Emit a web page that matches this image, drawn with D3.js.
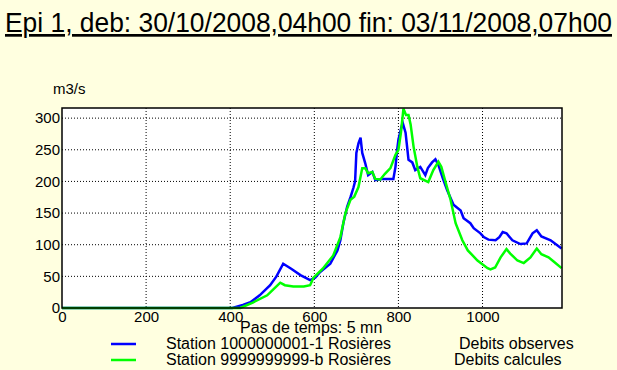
<!DOCTYPE html>
<html>
<head>
<meta charset="utf-8">
<script src="https://cdn.jsdelivr.net/npm/d3@7"></script>
<style>
  body { margin: 0; background: #ffffe0; }
  svg { display: block; font-family: "Liberation Sans", Arial, sans-serif; }
</style>
</head>
<body>
<div id="chart"></div>
<script>
const WIDTH = 617, HEIGHT = 370;
const TITLE = "Epi 1, deb: 30/10/2008,04h00 fin: 03/11/2008,07h00";
const Y_LABEL = "m3/s";
const X_LABEL = "Pas de temps: 5 mn";

// time step index / debit (m3/s)
const obsSteps = [0, 405, 430, 448, 470, 495, 510, 526, 545, 567, 590, 602, 614, 638, 655, 662, 669, 678, 686, 693, 697, 700, 705, 710, 714, 721, 728, 738, 745, 765, 788, 793, 797, 800, 805, 810, 817, 824, 833, 840, 852, 864, 870, 880, 888, 895, 905, 916, 931, 948, 955, 971, 979, 995, 1003, 1014, 1031, 1040, 1048, 1057, 1071, 1090, 1105, 1119, 1129, 1140, 1162, 1188];
const obsValues = [0, 0, 5, 9, 20, 36, 50, 70, 62, 52, 44, 48, 57, 70, 91, 107, 134, 160, 175, 190, 200, 245, 260, 269, 245, 229, 210, 215, 202, 204, 204, 223, 250, 266, 280, 293, 277, 234, 230, 218, 223, 210, 221, 230, 235, 226, 206, 186, 163, 154, 142, 134, 126, 118, 112, 108, 107, 112, 120, 118, 107, 101, 102, 118, 123, 113, 107, 94];

const calcSteps = [0, 424, 455, 488, 505, 519, 530, 550, 575, 590, 598, 620, 645, 662, 674, 686, 695, 705, 714, 721, 728, 738, 745, 757, 768, 781, 793, 800, 806, 812, 818, 824, 829, 836, 845, 852, 871, 883, 895, 902, 912, 924, 936, 952, 965, 988, 1012, 1019, 1030, 1043, 1057, 1066, 1083, 1098, 1114, 1129, 1140, 1157, 1172, 1188];
const calcValues = [0, 0, 9, 20, 31, 40, 36, 34, 34, 36, 48, 62, 83, 112, 150, 171, 176, 191, 221, 221, 213, 215, 204, 203, 212, 221, 242, 250, 277, 315, 305, 305, 290, 255, 223, 205, 199, 218, 231, 223, 199, 171, 134, 107, 91, 75, 63, 61, 64, 80, 93, 86, 75, 71, 80, 94, 85, 80, 72, 63];

const xTicks = [0, 200, 400, 600, 800, 1000];
const yTicks = [0, 50, 100, 150, 200, 250, 300];

const legendNames = ["Station 1000000001-1 Rosières", "Station 9999999999-b Rosières"];
const legendTypes = ["Debits observes", "Debits calcules"];
const colors = ["#0000ff", "#00ff00"];

let margin = {top: 108, right: 55, bottom: 62, left: 62};
let width = WIDTH - margin.left - margin.right;
let height = HEIGHT - margin.top - margin.bottom;

let svg = d3.select("#chart").append("svg")
    .attr("width", WIDTH)
    .attr("height", HEIGHT);

svg.append("rect").attr("width", WIDTH).attr("height", HEIGHT).attr("fill", "#ffffe0");

// title
svg.append("text")
    .attr("x", 5).attr("y", 32)
    .attr("font-size", 27)
    .attr("textLength", 607)
    .attr("lengthAdjust", "spacingAndGlyphs")
    .attr("text-decoration", "underline")
    .attr("fill", "#000")
    .text(TITLE);

let xScale = d3.scaleLinear().domain([0, 1189]).range([0, width]);
let yScale = d3.scaleLinear().domain([0, 316]).range([height, 0]);

let g = svg.append("g").attr("transform", "translate(" + margin.left + "," + margin.top + ")");

g.append("rect").attr("width", width).attr("height", height).attr("fill", "#fff");

// grid
g.selectAll(".vgrid").data(xTicks.slice(1))
  .enter().append("line")
    .attr("x1", d => xScale(d)).attr("x2", d => xScale(d))
    .attr("y1", 0).attr("y2", height)
    .attr("stroke", "#000").attr("stroke-dasharray", "1,2");
g.selectAll(".hgrid").data(yTicks.slice(1))
  .enter().append("line")
    .attr("x1", 0).attr("x2", width)
    .attr("y1", d => yScale(d)).attr("y2", d => yScale(d))
    .attr("stroke", "#000").attr("stroke-dasharray", "1,2");

// series (observed first, calculated on top)
let line = d3.line().x(d => xScale(d[0])).y(d => yScale(d[1]));
let series = [d3.zip(obsSteps, obsValues), d3.zip(calcSteps, calcValues)];
series.forEach(function(s, i) {
  g.append("path")
    .datum(s)
    .attr("d", line)
    .attr("fill", "none")
    .attr("stroke", colors[i])
    .attr("stroke-width", 2.5);
});

g.append("rect").attr("width", width).attr("height", height)
    .attr("fill", "none").attr("stroke", "#000").attr("stroke-width", 1.5);

// axes
let xAxis = d3.axisBottom(xScale).tickValues(xTicks).tickFormat(d3.format("d")).tickSize(0).tickPadding(3);
let yAxis = d3.axisLeft(yScale).tickValues(yTicks).tickFormat(d3.format("d")).tickSize(0).tickPadding(2);
let xg = g.append("g").attr("transform", "translate(0," + height + ")").call(xAxis);
let yg = g.append("g").call(yAxis);
[xg, yg].forEach(function(a) {
  a.select(".domain").remove();
  a.selectAll("text").attr("font-size", 15).attr("font-family", "Liberation Sans, Arial, sans-serif").attr("fill", "#000");
});

svg.append("text").attr("x", 53).attr("y", 94).attr("font-size", 15).text(Y_LABEL);
svg.append("text").attr("x", 240).attr("y", 333).attr("font-size", 16).text(X_LABEL);

// legend
let legendY = [344, 360];
let typeX = [459, 454];
legendNames.forEach(function(name, i) {
  svg.append("line")
    .attr("x1", 111).attr("x2", 136)
    .attr("y1", legendY[i]).attr("y2", legendY[i])
    .attr("stroke", colors[i]).attr("stroke-width", 2.5);
  svg.append("text").attr("x", 166).attr("y", legendY[i] + 5).attr("font-size", 16).text(name);
  svg.append("text").attr("x", typeX[i]).attr("y", legendY[i] + 5).attr("font-size", 16).text(legendTypes[i]);
});
</script>
</body>
</html>
